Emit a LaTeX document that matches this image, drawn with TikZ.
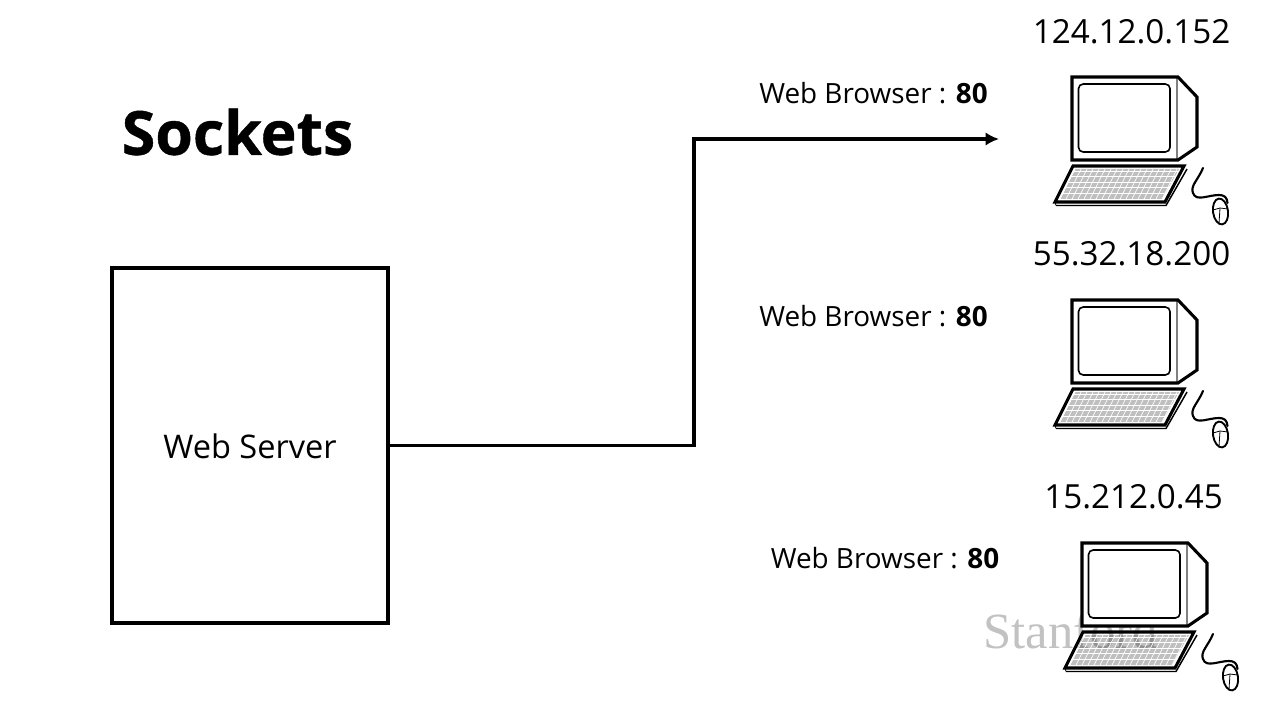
\documentclass[tikz,border=0pt]{standalone}
\usepackage{fontspec}
\setmainfont{Open Sans}
\newfontfamily\stanfont{Liberation Serif}
\newfontfamily\titlefont[BoldFeatures={FakeBold=0.7}]{Open Sans}
\usetikzlibrary{arrows.meta}
\tikzset{
  label/.style={inner sep=0pt,anchor=center,font=\fontsize{20.9}{24}\selectfont},
  ipaddr/.style={inner sep=0pt,anchor=center,font=\fontsize{24.9}{29}\selectfont},
  boxnode/.style={draw=black,line width=2.6pt,fill=white,minimum width=207pt,minimum height=266.5pt,inner sep=0pt},
  wire/.style={draw=black,line width=2.6pt},
  thick1/.style={draw=black,line width=2.3pt,line join=miter},
  pics/computer/.style={code={
    % monitor body
    \path[fill=white] (0,0) -- (106,0) -- (125,20) -- (125,70) -- (106,83) -- (0,83) -- cycle;
    \draw[draw=black!50,line width=0.9pt] (105,0) -- (105,83);
    \draw[thick1] (106,83) -- (0,83) -- (0,0) -- (106,0) -- (125,20) -- (125,70) -- cycle;
    \draw[draw=black,line width=1.2pt,rounded corners=3.5pt] (6.5,7) rectangle (98,75);
    % keyboard
    \draw[draw=black,line width=1.1pt] (-16,128.5) -- (94,128.5) -- (115,92);
    \draw[draw=black,line width=0.6pt] (-17,125) -- (-16,128.5);
    \fill[black,opacity=0.25] (3,92) -- (107,92) -- (90,122) -- (-12,122) -- cycle;
    \foreach \kk in {0,...,4}{
      \draw[draw=white,line width=0.5pt] ({1.4-3.1*\kk},{94+5.5*\kk}) -- ({106-3.1*\kk},{94+5.5*\kk});
    }
    \foreach \kk in {0,...,17}{
      \draw[draw=white,line width=0.5pt] ({3+6*\kk},92) -- ({-12+6*\kk},122);
    }
    \draw[thick1] (1,89) -- (112,89) -- (93,125) -- (-17,125) -- cycle;
    % mouse and cable
    \draw[draw=black,line width=1.6pt,line cap=round] (131,91) .. controls (126,103) and (118,109) .. (121,116) .. controls (124,125) and (136,118) .. (147,118) .. controls (152,118) and (155,120) .. (155.5,126);
    \draw[draw=black,line width=1.4pt,rotate around={8:(148.5,134.5)}] (148.5,134.5) ellipse (7.5 and 13);
    \draw[draw=black,line width=0.6pt] (141,133) -- (148,131) -- (156,132);
    \draw[draw=black,line width=0.6pt] (148,131) -- (147,146);
  }}
}
\begin{document}
\begin{tikzpicture}[x=0.75pt,y=-0.75pt]
\useasboundingbox (0,0) rectangle (1280,720);
\fill[white] (0,0) rectangle (1280,720);
\node[inner sep=0pt,anchor=center,font=\titlefont\bfseries\fontsize{45.6}{52}\selectfont] (title) at (237.5,132) {Sockets};
\node[boxnode] (server) at (250,445.5) {};
\node[inner sep=0pt,anchor=center,font=\fontsize{24.4}{29}\selectfont] (servertext) at (250,446) {Web Server};
\node[label] (b1) at (873.5,93) {Web Browser : \textbf{80}};
\node[label] (b2) at (873.5,316) {Web Browser : \textbf{80}};
\node[label] (b3) at (885,558) {Web Browser : \textbf{80}};
\node[ipaddr] (ip1) at (1131.5,32) {124.12.0.152};
\node[ipaddr] (ip2) at (1131.5,254) {55.32.18.200};
\node[ipaddr] (ip3) at (1133.5,497) {15.212.0.45};
\coordinate (end) at (999,139);
\draw[wire,-{Latex[length=10pt,width=10pt]}] (server.east) -- (694,445.5) -- (694,139) -- (end);
\pic at (1072,77) {computer};
\pic at (1072,300) {computer};
\node[inner sep=0pt,anchor=west,text=black!24,font=\stanfont\fontsize{38}{44}\selectfont] (wm) at (983,631) {Stanford};
\pic at (1082,543) {computer};
\end{tikzpicture}
\end{document}
